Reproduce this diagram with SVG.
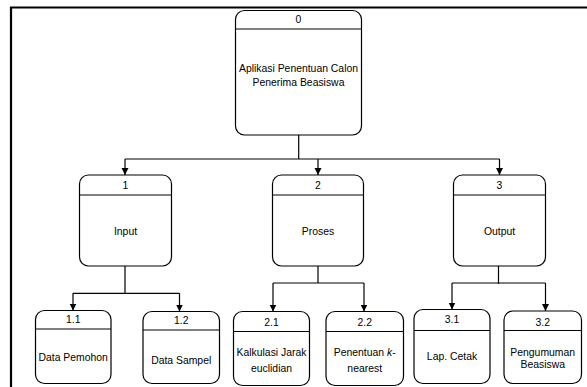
<svg xmlns="http://www.w3.org/2000/svg" width="587" height="387" viewBox="0 0 587 387">
<defs>
<style>
.box{fill:#fff;stroke:#000;stroke-width:1.2}
.hdr{stroke:#000;stroke-width:1.2}
.t{font-family:"Liberation Sans",Arial,sans-serif;font-size:10.4px;fill:#000;text-anchor:middle}
.c{fill:none;stroke:#000;stroke-width:1.2}
.frame{fill:none;stroke:#000;stroke-width:2.2}
</style>
<marker id="ah" viewBox="0 0 10 10" refX="10" refY="5" markerWidth="7" markerHeight="9" markerUnits="userSpaceOnUse" orient="auto">
<path d="M0,0 L10,5 L0,10 Z" fill="#000"/>
</marker>
</defs>
<rect width="587" height="387" fill="#fff"/>
<path class="frame" d="M11,388 V7.5 H588"/>

<g id="connectors">
<path class="c" d="M298.7,135 V159"/>
<path class="c" d="M125,159 H499.5"/>
<path class="c" d="M125,159 V175" marker-end="url(#ah)"/>
<path class="c" d="M318,159 V175" marker-end="url(#ah)"/>
<path class="c" d="M499.5,159 V175" marker-end="url(#ah)"/>

<path class="c" d="M125,266 V293.3 M73,293.3 H179.5"/>
<path class="c" d="M73,293.3 V310.5" marker-end="url(#ah)"/>
<path class="c" d="M179.5,293.3 V311.5" marker-end="url(#ah)"/>

<path class="c" d="M318,266 V283 M273,283 H364"/>
<path class="c" d="M273,283 V311.5" marker-end="url(#ah)"/>
<path class="c" d="M364,283 V311.5" marker-end="url(#ah)"/>

<path class="c" d="M498.5,266 V284 M452,283 H545.5"/>
<path class="c" d="M452,283 V309.5" marker-end="url(#ah)"/>
<path class="c" d="M545.5,283 V311" marker-end="url(#ah)"/>
</g>

<g id="node0">
<rect class="box" x="235.5" y="10.5" width="126" height="124.5" rx="9"/>
<line class="hdr" x1="235.5" y1="29" x2="361.5" y2="29"/>
<text class="t" x="298.5" y="23">0</text>
<text class="t" x="298.5" y="71.5">Aplikasi Penentuan Calon</text>
<text class="t" x="298.5" y="85.5">Penerima Beasiswa</text>
</g>

<g id="node1">
<rect class="box" x="79.5" y="175" width="92" height="91" rx="9"/>
<line class="hdr" x1="79.5" y1="195" x2="171.5" y2="195"/>
<text class="t" x="125.5" y="188.5">1</text>
<text class="t" x="125.5" y="235">Input</text>
</g>

<g id="node2">
<rect class="box" x="272.5" y="175" width="91" height="91" rx="9"/>
<line class="hdr" x1="272.5" y1="195" x2="363.5" y2="195"/>
<text class="t" x="318" y="188.5">2</text>
<text class="t" x="318" y="234.5">Proses</text>
</g>

<g id="node3">
<rect class="box" x="453.5" y="175" width="92" height="91" rx="9"/>
<line class="hdr" x1="453.5" y1="195" x2="545.5" y2="195"/>
<text class="t" x="499.5" y="188.5">3</text>
<text class="t" x="499.5" y="235">Output</text>
</g>

<g id="node1-1">
<rect class="box" x="35.5" y="310.5" width="75.5" height="73" rx="9"/>
<line class="hdr" x1="35.5" y1="329" x2="111" y2="329"/>
<text class="t" x="73.2" y="323">1.1</text>
<text class="t" x="73.2" y="361">Data Pemohon</text>
</g>

<g id="node1-2">
<rect class="box" x="143" y="311.5" width="76.5" height="72" rx="9"/>
<line class="hdr" x1="143" y1="330" x2="219.5" y2="330"/>
<text class="t" x="181.2" y="323.5">1.2</text>
<text class="t" x="181.2" y="363.5">Data Sampel</text>
</g>

<g id="node2-1">
<rect class="box" x="233.5" y="311.5" width="76" height="74" rx="9"/>
<line class="hdr" x1="233.5" y1="331.5" x2="309.5" y2="331.5"/>
<text class="t" x="271.5" y="326">2.1</text>
<text class="t" x="271.5" y="356">Kalkulasi Jarak</text>
<text class="t" x="271.5" y="371.5">euclidian</text>
</g>

<g id="node2-2">
<rect class="box" x="326" y="311.5" width="77.5" height="74" rx="9"/>
<line class="hdr" x1="326" y1="331.5" x2="403.5" y2="331.5"/>
<text class="t" x="364.7" y="326">2.2</text>
<text class="t" x="364.7" y="356">Penentuan <tspan font-style="italic">k</tspan>-</text>
<text class="t" x="364.7" y="371.5">nearest</text>
</g>

<g id="node3-1">
<rect class="box" x="414" y="309.5" width="76" height="74" rx="9"/>
<line class="hdr" x1="414" y1="330.5" x2="490" y2="330.5"/>
<text class="t" x="452" y="322.5">3.1</text>
<text class="t" x="452" y="360">Lap. Cetak</text>
</g>

<g id="node3-2">
<rect class="box" x="504" y="311" width="77.5" height="72.5" rx="9"/>
<line class="hdr" x1="504" y1="330.5" x2="581.5" y2="330.5"/>
<text class="t" x="542.7" y="325.5">3.2</text>
<text class="t" x="542.7" y="356">Pengumuman</text>
<text class="t" x="542.7" y="367.5">Beasiswa</text>
</g>
</svg>
